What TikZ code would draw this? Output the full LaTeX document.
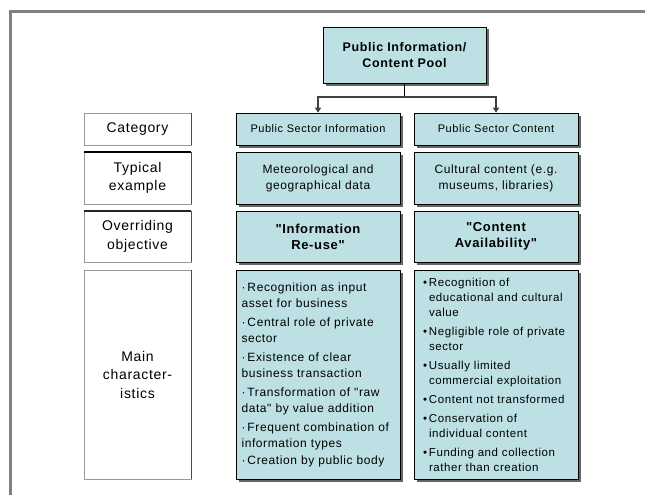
\documentclass[tikz,border=0pt]{standalone}
\usepackage{fontspec}
\setmainfont{Liberation Sans}[LetterSpace=5, Ligatures=TeXOff]
\usetikzlibrary{arrows.meta,shadows}
\definecolor{poolblue}{RGB}{188,224,228}
\definecolor{framegray}{RGB}{128,128,128}
\begin{document}
\begin{tikzpicture}[x=1pt,y=-1pt]
\tikzstyle{every node}+=[inner sep=0pt]
\tikzstyle{bluebox}=[draw=black, line width=0.6pt, fill=poolblue, align=center, minimum width=164pt,
  drop shadow={shadow xshift=2.5pt, shadow yshift=-2.5pt, fill=black!60, opacity=1}]
\tikzstyle{labelbox}=[draw=black!40, fill=white, align=center, minimum width=107pt,
  font=\fontsize{14}{18.5}\selectfont]
\tikzstyle{link}=[black!75, line width=1.2pt]
\useasboundingbox (0,0) rectangle (645,495);
% frame
\draw [framegray, line width=2.5pt] (10.5,495) -- (10.5,11.5) -- (645,11.5);
% top of the tree
\node [bluebox, minimum width=163pt, minimum height=56pt, font=\bfseries\fontsize{12.5}{16.5}\selectfont] (pool) at (404.5,55) {Public Information/\\Content Pool};
% row labels
\node [labelbox, minimum height=32pt] (cat) at (137.5,129) {Category};
\node [labelbox, minimum height=52pt] (typ) at (137.5,178) {Typical\\example};
\node [labelbox, minimum height=51pt] (obj) at (137.5,236.5) {Overriding\\objective};
\node [labelbox, minimum height=209pt] (chr) at (137.5,374.5) {Main\\character-\\istics};
\draw [black!70, line width=1pt] (cat.north east) -- (cat.south east);
\draw [black!70, line width=1pt] (typ.north east) -- (typ.south east);
\draw [black!70, line width=1pt] (obj.north east) -- (obj.south east);
\draw [black!70, line width=1pt] (chr.north east) -- (chr.south east);
\draw [black, line width=1.6pt] (typ.north west) -- (typ.north east);
\draw [black!85, line width=1.4pt] (obj.north west) -- (obj.north east);
% public sector information
\node [bluebox, minimum height=32pt, font=\fontsize{11}{15}\selectfont] (psi) at (318,129) {Public Sector Information};
\node [bluebox, minimum height=52pt, font=\fontsize{12}{16}\selectfont] (met) at (318,178) {Meteorological and\\geographical data};
\node [bluebox, minimum height=51pt, font=\bfseries\fontsize{13}{16}\selectfont] (reuse) at (318,236.5) {"Information\\Re-use"};
\node [bluebox, minimum height=209pt, align=left, text width=153pt, font=\fontsize{12}{16}\selectfont] (psichar) at (318,374.5) {%
·\,Recognition as input\\asset for business\\[3pt]
·\,Central role of private\\sector\\[3pt]
·\,Existence of clear\\business transaction\\[3pt]
·\,Transformation of "raw\\data" by value addition\\[3pt]
·\,Frequent combination of\\information types\\[1pt]
·\,Creation by public body};
% public sector content
\node [bluebox, minimum height=32pt, font=\fontsize{11}{15}\selectfont] (psc) at (496,129) {Public Sector Content};
\node [bluebox, minimum height=52pt, font=\fontsize{12}{16}\selectfont] (cult) at (496,178) {Cultural content (e.g.\\museums, libraries)};
\node [bluebox, minimum height=51pt, font=\bfseries\fontsize{13}{16}\selectfont] (avail) at (496,236.5) {"Content\\Availability"};
\node [bluebox, minimum height=209pt, align=left, text width=146pt, font=\fontsize{11.5}{15}\selectfont] (pscchar) at (496,374.5) {%
•\,Recognition of\\\hspace*{6pt}educational and cultural\\\hspace*{6pt}value\\[4pt]
•\,Negligible role of private\\\hspace*{6pt}sector\\[4pt]
•\,Usually limited\\\hspace*{6pt}commercial exploitation\\[4pt]
•\,Content not transformed\\[4pt]
•\,Conservation of\\\hspace*{6pt}individual content\\[4pt]
•\,Funding and collection\\\hspace*{6pt}rather than creation};
% connectors
\coordinate (split) at (pool.south |- 0,97);
\draw [black, line width=1.2pt] (pool.south) -- (split);
\draw [link, -{Triangle[width=6pt,length=5pt]}] (split) -| (psi.north);
\draw [link, -{Triangle[width=6pt,length=5pt]}] (split) -| (psc.north);
\end{tikzpicture}
\end{document}
